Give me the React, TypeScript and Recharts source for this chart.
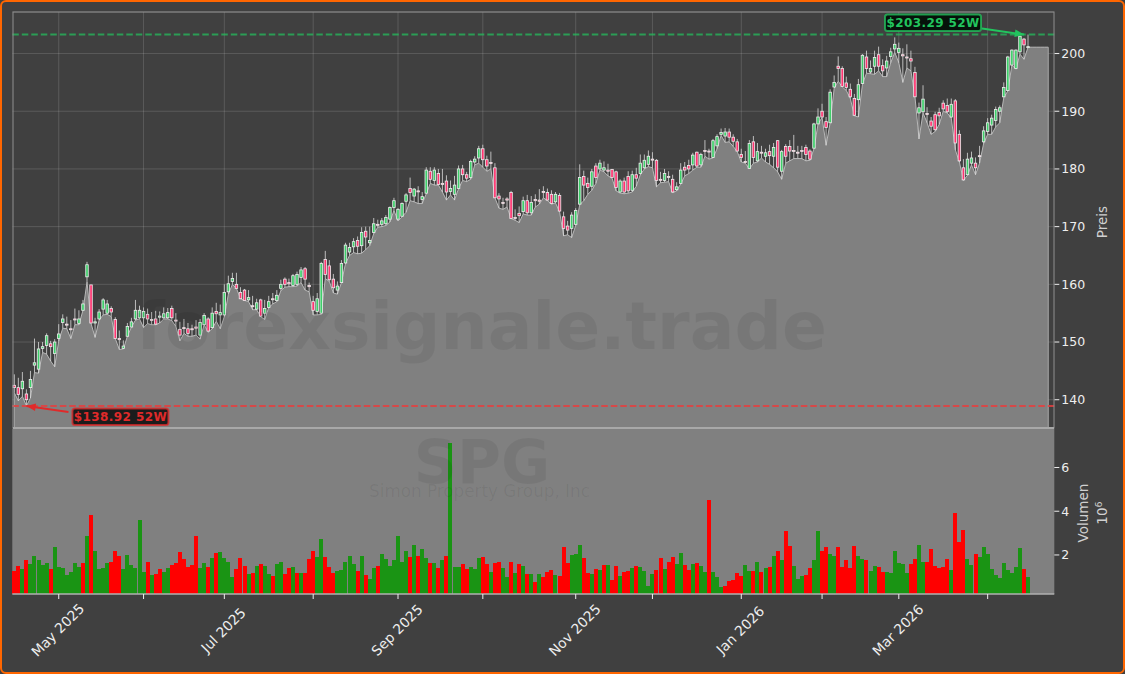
import { Area, Bar, CartesianGrid, Cell, ComposedChart, ReferenceDot, ReferenceLine, XAxis, YAxis } from "recharts";

const opens = [
  142.5,142.1,141.9,141,142.1,146,145.3,148.9,149.4,149.7,
  148,150.6,153.4,153.1,152.3,154,153.2,155.5,161.3,159.9,
  153.3,154,155.7,155,155.8,153.9,150.6,148.9,151,152.6,
  154,154.2,154.2,154.8,153.9,154,154.3,154.2,154.2,155.8,
  153.8,152.2,152.5,152.3,152.3,152.6,151.2,153,154,152.5,
  155.3,154.7,154.7,158.7,160.5,160,158.6,159,157.3,156.3,
  155.7,157.3,155,156,157.5,157.2,159.3,160.9,160.3,159.8,
  160,161.2,162.7,159.8,157,155.3,155,164.3,163.2,160.9,
  159,160.3,163.7,165.6,166.5,167.6,166.7,169.2,167.2,169,
  170.4,170.4,170.5,171.3,173.3,171.3,171.8,174.4,176.6,175.3,
  176.2,174.7,175.8,179.6,178,179.2,177.5,177.9,176.1,175.6,
  176.6,180,179,178.5,181.2,181.9,183.5,181.6,181.1,180.2,
  175.3,174.2,174.8,175.9,171.6,172.3,172.6,174.5,172.4,174.7,
  174.6,176.1,175.9,175.6,174.3,175.4,171.7,170.1,169.7,170.4,
  173.9,178.7,177.5,177,180.5,180,179.8,179.8,179.9,179.5,
  176,177.9,178.7,176.3,179,179.2,180.2,180.8,181.7,181.5,
  178.2,178,178.7,178.2,176.4,177.5,180.3,180.6,180.7,182.9,
  180.7,183.2,183.1,182,184,186,185.7,186.4,185.5,184.7,
  182.5,181.3,180.1,184.7,181.4,182.9,182.2,183,182.2,184.9,
  179.6,183.9,183.9,183.2,182.9,183.2,183.7,183.1,183.6,187.8,
  190,188.2,188,194.2,197.8,197.4,194.9,193.8,192.2,192,
  194.8,199.4,196.8,197.8,199.8,197.9,197.5,199.5,200.8,200.2,
  199.8,199.4,199.1,196.7,189.7,189.9,189.6,188.3,189.4,189.8,
  191.4,191,189,191.8,186,180.2,179,181,181,182.3,
  184.7,186.5,187.6,188.4,190,192.5,193.6,198,197.4,200.3,202.5,201.1,
];

const closes = [
  142.1,140.9,143.2,140,143.5,146.4,148.8,149.2,151.1,149.2,
  150,151.4,154,153,152.2,153.9,154,156.6,163.4,153.3,
  153.5,155.2,157.3,156.6,155.2,150.6,150.4,149.3,152.7,153.5,
  155.5,155.5,155.3,154,153.8,153.1,154.5,154.9,155.1,154.2,
  153.7,151.2,152.4,151.5,152.2,152.4,153.4,154.6,151.9,155,
  154.9,155.1,158.6,160.1,161,159.3,157.5,157.2,157.7,156.2,
  156.8,154.5,155.8,157,157.4,158.1,160,160,160.1,161.5,
  161.7,162.5,160.9,159.6,155.5,157.5,163.6,161.7,160.8,159.4,
  159.7,163.6,166.8,166.4,167.4,166.6,169,168.2,167.6,170.5,
  170.3,171,171.6,173.3,174.5,173,174,175.5,175.9,176.5,
  176.1,175.2,179.8,178.2,179.8,177.3,177.3,176,176.6,177.2,
  180,179,178.4,181.3,181.7,183.5,181.6,180.5,181,175,
  174.8,174.1,174.6,171.4,171.5,171.9,174.5,172.4,174.2,174.5,
  174.4,175.9,174.6,174,175.6,172.7,169.7,169.4,172,172.8,
  178.5,177.2,176.8,179.5,178.5,181,180.2,179.6,178.5,176.8,
  177.9,176,176.2,179,178.4,181,181.5,182.2,181.6,178,
  178.1,179.2,178.6,176,176.9,179.8,179.8,180,182.4,180.5,
  182.5,183.1,183,184.9,185.6,186.3,186.4,185.5,184.8,183.1,
  182,181.2,184.4,182,183,182.8,182.8,182.3,183.7,180.3,
  183,182.2,183.1,183.1,182.8,183.1,182.5,181.7,187.8,189,
  189,187.2,193.3,195,197.4,194.3,194.1,192.5,189.3,194.6,
  199.7,197.4,197.4,199.3,197.8,197,198.7,200.3,201.6,200.9,
  199.6,199.3,198.7,192.5,190.6,192.1,189.5,187.4,186.8,189.2,
  190.4,189.9,191.2,184.5,181.4,178.1,181.7,181.9,180.2,182.2,
  186.6,188,188.8,190.3,190.6,194.1,199.4,200.6,200.6,203,201.5,201.2,
];

const lows = [
  141.2,139.8,140.6,138.92,140.3,144.7,144.6,148.2,147.9,146.7,
  145.7,150.2,152.4,152.3,150.6,153,153,155.5,160.4,153.2,
  150.8,153.8,154.7,154.8,154.4,150.6,148.7,148.8,151,152.6,
  153.8,154,152.5,153.2,153,153,153.3,154,154,153.7,
  152.7,150.2,151.5,151,151,151.2,150.5,153,151.7,152.3,
  153.6,152.3,154.4,158.3,160,159.3,157.5,157.2,157,155.6,
  155.6,154.4,153.9,156,156.6,157,158.9,159.5,159.6,159.6,
  159.7,160.3,159,158.7,154.7,154.7,154.8,161,160.5,158.5,
  158.3,160.3,163.6,165,165.5,165.3,165.4,166,166.7,168.8,
  169.9,170,170.2,170.8,172.8,171,171.7,172.5,174.5,174.3,
  174,174,175.7,177.5,177.2,177.2,176,174.6,175.5,174.6,
  176.6,178,177.8,178.2,180.7,181,180.3,179.6,180,175,
  173.2,173,173.4,171.4,171.1,170.7,172.2,172,172,173.4,
  173.9,175,174.5,173.9,174.1,172.6,168.4,168.6,168.1,170.2,
  173.8,174.5,175.6,176.3,177.5,179.8,179.5,178.8,178.4,176.2,
  175.8,175.7,175.8,176,177,179,180,180.4,180.2,176.9,
  177.6,177.7,177.8,175.9,176.2,177.4,178.8,179.2,179.8,180.3,
  180.3,182.2,181.7,181.9,183.5,185.8,184.6,184.7,183.9,183,
  181.2,181,180,181,181.2,181.9,181.2,180.8,180.2,179.5,
  178.2,181,181.4,181.8,181.8,181.8,181.4,181.5,183.5,187.8,
  188.9,184.1,188,194,195.2,194.2,193.6,192.2,189.2,189,
  194.7,196.6,196.5,196.4,197,196,196,198.4,200.2,198.4,
  195,197.5,197,192.5,185.2,189.7,188,186,186.5,187.7,
  190,189.7,188.8,183.3,181.2,178,178.9,180.7,179,181,
  184.4,186,186,187.3,188,192.4,193.5,198,197.3,199.9,199,201.1,
];

const highs = [
  144.4,143.8,144.8,141.8,145,150.6,150,150,151.5,150.2,
  150.5,153.1,154.8,154.4,153.8,155.8,155.5,157.3,163.9,159.9,
  154.2,155.7,157.6,157.3,156.2,154.3,152,150.3,153.3,154.2,
  157.3,156.3,156,155.8,155.2,155.4,155.3,156,155.9,156.3,
  155,153.5,154,153.3,153,153.8,154,155,154.3,156,
  156.8,156.5,160,161.5,162,162,159.5,159.2,159,158,
  157.5,157.5,157.3,158,158.5,159,160.8,161.2,161,161.8,
  162.2,163,163,160.3,158,158.5,163.9,165.8,164.2,161.8,
  160.5,164.2,167.2,167.2,168,168.3,169.9,170,170,171.5,
  171.2,171.5,172,173.5,175,173.2,174.2,175.8,178.5,176.7,
  177,176,180.3,180.3,180.3,180,180,178.9,178,178.8,
  180.6,180.7,179.5,181.6,182.2,184,184.2,182.3,183,181,
  175.8,175,175.1,176.2,173,173.5,175.2,175.5,175.3,175.6,
  176.5,177,176.6,176.3,176,175.8,172.6,171,172.5,173.2,
  180.8,179.7,178.5,180,181,181.6,181.3,180.9,180,179.7,
  178.2,178.5,179.6,179.7,180.2,182.5,182.5,183.2,182.9,181.7,
  179.5,180,179.6,179,177.7,181,181.2,181.6,182.8,183,
  182.8,185,183.5,185.2,186,187,187.1,187,186,185.2,
  183.5,183.1,185,185.7,184.5,184,183.5,184.2,184.5,185,
  183.3,184.3,185,185.9,184,184,184.2,183.4,188,190.5,
  191.3,189,193.8,196.2,199.5,197.8,196,194.8,193,195.6,
  199.9,200.5,198.8,200.5,201.2,199,199.6,201,202.8,201.9,
  200.9,201.6,200.5,197.7,191.5,194.5,190.7,189,189.9,190.6,
  191.9,192.2,192.2,192.1,186.7,181.7,182.8,183,182,184,
  187.4,188.8,189.4,190.8,191,195,199.6,200.7,200.7,203.1,202.7,203.29,
];

// volume in millions
const volumes = [
  1.26,1.49,1.37,1.76,1.58,1.94,1.76,1.52,1.62,1.35,
  2.35,1.43,1.4,1.08,1.2,1.65,1.44,1.65,2.85,3.85,
  2.2,1.35,1.4,1.65,1.7,2.2,1.94,1.35,1.99,1.53,
  1.4,3.58,1.2,1.7,1.08,1.12,1.35,1.2,1.4,1.53,
  1.62,2.12,1.8,1.44,1.53,2.85,1.4,1.62,1.44,1.85,
  2.08,2.12,1.85,1.67,1,1.35,1.85,1.49,1.12,1.17,
  1.49,1.58,1.49,1.12,1.03,1.58,1.7,1.12,1.4,1.44,
  1.17,1.17,1.17,1.8,2.2,1.9,2.72,1.9,1.44,1.17,
  1.26,1.3,1.7,1.94,1.6,1.26,1.94,1.08,0.9,1.4,
  1.49,2.06,1.8,1.49,1.76,2.85,1.67,2.17,1.9,2.44,
  1.94,2.26,1.85,1.62,1.62,1.4,1.76,1.94,7.1,1.44,
  1.44,1.58,1.35,1.44,1.35,1.85,1.9,1.58,1.2,1.62,
  1.67,1.4,1,1.67,1.17,1.58,1.49,1.12,1.12,0.76,
  1.12,1,1.2,1.3,1.08,1.03,2.35,1.62,1.99,2.03,
  2.44,1.85,1.17,1.12,1.35,1.3,1.53,1.53,0.85,1.49,
  1.03,1.2,1.26,1.4,1.49,1.44,1.26,0.58,1.12,1.3,
  1.85,1.35,1.7,1.9,1.58,2.08,1.53,1.3,1.58,1.62,
  1.49,1.2,4.5,1.2,1,0.54,0.58,0.8,0.85,1.17,
  1.03,1.53,1.26,1.26,1.67,1.2,1.4,1.44,1.94,2.17,
  1.76,3.08,2.4,1.49,0.9,1.03,1.08,1.4,1.76,3.08,
  2.2,2.35,2.03,1.94,2.35,1.44,1.76,1.4,2.4,1.94,
  1.8,1.76,1.26,1.49,1.44,1.2,1.2,1.17,2.17,1.62,
  1.58,1.17,1.58,1.8,2.44,1.67,1.67,2.26,1.49,1.4,
  1.44,1.8,1.3,3.9,2.58,3.13,1.8,1.53,2.03,1.9,
  2.35,2.03,1.35,1.08,0.95,1.62,1.3,1.17,1.44,2.3,1.35,1,
];

// u = up day, d = down day, one letter per volume bar
const volumeSides = [
  "dduduuuuud", "uuuuuuudud", "uuuuddduuu", "uuududduud", "dddddduudu",
  "duuuudddud", "uduuduuddu", "duddduuddd", "uuuuududuu", "duuuuuuudu",
  "duudududuu", "udduuuddud", "duudududud", "uddduddduu", "uddudududd",
  "udduduuuud", "dudduuddud", "uuduuudddd", "duudududud", "udduuudduu",
  "dduudddddu", "uduudduuuu", "uudduudddd", "dduddduudu", "uuuuuuuuuudu",
].join("");

const xTicks = [11, 32, 52, 74, 95, 116, 139, 158, 180, 200, 219, 241];
const xTickLabels: Record<number, string> = { 11: "May 2025", 52: "Jul 2025", 95: "Sep 2025", 139: "Nov 2025", 180: "Jan 2026", 219: "Mar 2026" };
const priceTicks = [140, 150, 160, 170, 180, 190, 200];
const volumeTicks = [2, 4, 6];
const trailingLows = [201.1, 201.1, 201.1, 201.1, 201.1, null];

const HIGH_52W = 203.29;
const LOW_52W = 138.92;
const PRICE_DOMAIN = [135.1, 207.2];
const VOLUME_DOMAIN = [0.215, 7.76];

const rows = [...lows, ...trailingLows].map((low, i) => ({
  day: i,
  low,
  open: opens[i] ?? null,
  high: highs[i] ?? null,
  close: closes[i] ?? null,
  volume: volumes[i] ?? null,
}));

const W = 1125;
const H = 674;
const PLOT_LEFT = 12.3;
const PLOT_W = 1042;
const FONT = "DejaVu Sans";
const TEXT = "#eeeeee";
const gridX = xTicks.map((t) => PLOT_LEFT + ((t + 0.5) * PLOT_W) / rows.length);

function Candle(props: any) {
  const { x, y, width, height, payload } = props;
  if (!payload || payload.high == null) return null;
  const { open, close, high, low } = payload;
  const cx = x + width / 2;
  const yOf = (v: number) => y + ((high - v) / (high - low)) * height;
  const top = yOf(Math.max(open, close));
  const bottom = yOf(Math.min(open, close));
  return (
    <g>
      <line x1={cx} x2={cx} y1={y} y2={y + height} stroke="#dcdcdc" strokeWidth={0.8} />
      <rect x={cx - 1.25} width={2.5} y={top} height={Math.max(bottom - top, 1)}
        fill={close >= open ? "#3ecf6a" : "#ff3370"} stroke="#eeeeee" strokeWidth={0.8} />
    </g>
  );
}

function MonthTick({ x, y, payload }: any) {
  const label = xTickLabels[payload.value];
  if (!label) return null;
  const cy = y + 29;
  return (
    <text x={x - 1} y={cy} fill={TEXT} fontSize={13.8} fontFamily={FONT} textAnchor="middle"
      dominantBaseline="central" transform={`rotate(-45 ${x - 1} ${cy})`}>
      {label}
    </text>
  );
}

function Callout({ cx, cy, text, color, boxFill, boxDx, boxDy, tailDx, tailDy }: any) {
  const angle = Math.atan2(tailDy, tailDx);
  const head = (a: number) => `${cx + 10 * Math.cos(angle + a)},${cy + 10 * Math.sin(angle + a)}`;
  return (
    <g>
      <line x1={cx + tailDx} y1={cy + tailDy} x2={cx} y2={cy} stroke={color} strokeWidth={2} />
      <polygon points={`${cx},${cy} ${head(0.4)} ${head(-0.4)}`} fill={color} />
      <rect x={cx + boxDx} y={cy + boxDy} width={96} height={16.5} rx={2.5} fill={boxFill} stroke={color} strokeWidth={2} strokeOpacity={0.75} />
      <text x={cx + boxDx + 48} y={cy + boxDy + 12.4} fill={color} fontSize={12} fontWeight="bold" fontFamily={FONT} textAnchor="middle" letterSpacing={0.4}>
        {text}
      </text>
    </g>
  );
}

export default function App() {
  return (
    <div style={{ position: "fixed", left: 0, top: 0, width: W, height: H, background: "#404040", overflow: "hidden", fontFamily: FONT }}>
      <div style={{ position: "absolute", left: 0, top: 0 }}>
        <ComposedChart width={W} height={429} data={rows} barCategoryGap={0} margin={{ top: 12, right: 0, bottom: 1, left: PLOT_LEFT }}>
          <CartesianGrid stroke="#ffffff" strokeOpacity={0.14} strokeWidth={1} verticalPoints={gridX} />
          <XAxis dataKey="day" ticks={xTicks} interval={0} tick={false} tickLine={false} axisLine={false} height={0} />
          <YAxis orientation="right" width={70.7} domain={PRICE_DOMAIN} allowDataOverflow ticks={priceTicks}
            tick={{ fill: TEXT, fontSize: 12.5, fontFamily: FONT }} tickLine={{ stroke: TEXT }} tickSize={5} axisLine={false} />
          <Area dataKey="low" stroke="#b8b8b8" strokeWidth={1} fill="#808080" fillOpacity={1} isAnimationActive={false} />
          <ReferenceLine segment={[{ x: 0, y: lows[0] }, { x: 0, y: PRICE_DOMAIN[0] }]} stroke="#a8a8a8" strokeWidth={1} />
          <ReferenceLine segment={[{ x: 256, y: 201.1 }, { x: 256, y: PRICE_DOMAIN[0] }]} stroke="#a8a8a8" strokeWidth={1} />
          <Bar dataKey={(d: any) => (d.high == null ? null : [d.low, d.high])} shape={Candle} isAnimationActive={false} />
          <ReferenceLine y={HIGH_52W} stroke="#22c55e" strokeOpacity={0.7} strokeWidth={2} strokeDasharray="6.5 3" />
          <ReferenceLine y={LOW_52W} stroke="#e53e3e" strokeOpacity={0.85} strokeWidth={2} strokeDasharray="6.5 3" />
          <ReferenceDot x={250} y={HIGH_52W} ifOverflow="visible"
            shape={(p: any) => <Callout {...p} text="$203.29 52W" color="#22c55e" boxFill="#06120b" boxDx={-139} boxDy={-20} tailDx={-42} tailDy={-6} />} />
          <ReferenceDot x={3} y={LOW_52W} ifOverflow="visible"
            shape={(p: any) => <Callout {...p} text="$138.92 52W" color="#e02a2a" boxFill="#1c1c1c" boxDx={46} boxDy={2.5} tailDx={42} tailDy={6} />} />
        </ComposedChart>
      </div>
      <div style={{ position: "absolute", left: 0, top: 429 }}>
        <ComposedChart width={W} height={245} data={rows} barCategoryGap={0} margin={{ top: 0, right: 0, bottom: 0, left: PLOT_LEFT }}>
          <CartesianGrid stroke="none" fill="#808080" fillOpacity={1} />
          <XAxis dataKey="day" ticks={xTicks} interval={0} height={80} tick={<MonthTick />}
            tickLine={{ stroke: TEXT }} tickSize={5} axisLine={{ stroke: "#b0b0b0", strokeWidth: 1.5 }} />
          <YAxis orientation="right" width={70.7} domain={VOLUME_DOMAIN} allowDataOverflow ticks={volumeTicks}
            tick={{ fill: TEXT, fontSize: 12.5, fontFamily: FONT }} tickLine={{ stroke: TEXT }} tickSize={5} axisLine={false} />
          <Bar dataKey="volume" isAnimationActive={false} shapeRendering="crispEdges">
            {rows.map((r) => (
              <Cell key={r.day} fill={volumeSides[r.day] === "d" ? "#ff0000" : "#1a9414"} />
            ))}
          </Bar>
        </ComposedChart>
      </div>
      <svg width={W} height={H} style={{ position: "absolute", left: 0, top: 0, pointerEvents: "none" }}>
        <rect x={13} y={12} width={1041} height={416} fill="none" stroke="#8f8f8f" strokeWidth={1} />
        <line x1={13} x2={1054} y1={428} y2={428} stroke="#a8a8a8" strokeWidth={2} />
        <text x={481.5} y={349} fontSize={66.3} fontWeight="bold" fill="#000" fillOpacity={0.065} textAnchor="middle" fontFamily={FONT}>forexsignale.trade</text>
        <text x={482} y={483} fontSize={60} fontWeight="bold" fill="#000" fillOpacity={0.065} textAnchor="middle" fontFamily={FONT}>SPG</text>
        <text x={479.5} y={497} fontSize={16.8} fill="#000" fillOpacity={0.065} textAnchor="middle" fontFamily={FONT}>Simon Property Group, Inc</text>
        <text x={1107} y={222} fontSize={13.5} fill="#d0d0d0" textAnchor="middle" transform="rotate(-90 1107 222)">Preis</text>
        <text x={1088} y={513} fontSize={13.5} fill="#d0d0d0" textAnchor="middle" transform="rotate(-90 1088 513)">Volumen</text>
        <text x={1107} y={513} fontSize={13.5} fill="#d0d0d0" textAnchor="middle" transform="rotate(-90 1107 513)">10<tspan dy={-5} fontSize={9.5}>6</tspan></text>
      </svg>
      <div style={{ position: "absolute", left: 0, top: 0, width: W, height: H, boxSizing: "border-box", border: "2px solid #ff6600", borderRadius: 6, pointerEvents: "none" }} />
    </div>
  );
}
